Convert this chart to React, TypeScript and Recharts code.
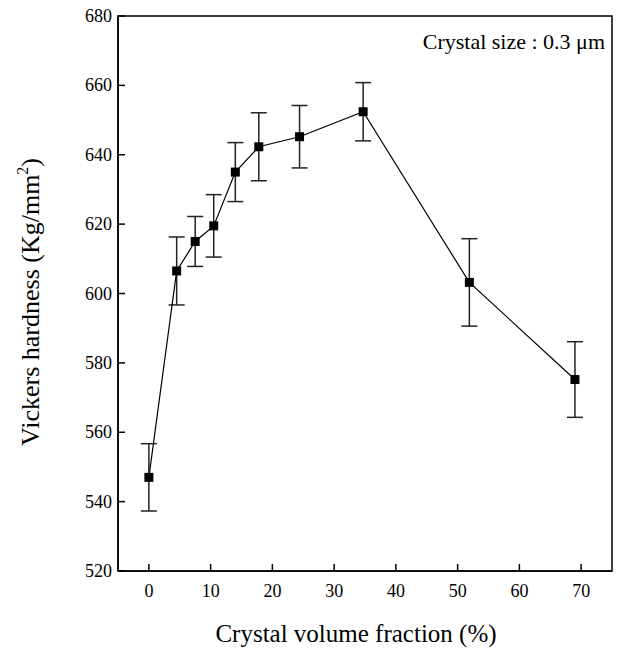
import React from "react";
import {
  LineChart,
  Line,
  XAxis,
  YAxis,
  ErrorBar,
  ReferenceArea,
} from "recharts";

// crystal volume fraction (%)
const fractions = [0, 4.5, 7.5, 10.5, 14, 17.8, 24.4, 34.7, 51.9, 69];
// Vickers hardness (Kg/mm2)
const hardness = [547, 606.5, 615, 619.5, 635, 642.3, 645.2, 652.4, 603.2, 575.2];
const errors = [9.7, 9.8, 7.2, 9, 8.5, 9.8, 9, 8.4, 12.6, 10.9];

const xTicks = [0, 10, 20, 30, 40, 50, 60, 70];
const yTicks = [520, 540, 560, 580, 600, 620, 640, 660, 680];

const data = fractions.map((f, i) => ({
  x: f,
  y: hardness[i],
  err: errors[i],
}));

const FONT = "'Liberation Serif', 'DejaVu Serif', serif";

const XTick = (props: any) => {
  const { x, y, payload } = props;
  return (
    <g>
      <line x1={x} y1={y} x2={x} y2={y - 7} stroke="#000" strokeWidth={1.5} />
      <text x={x} y={y + 26} textAnchor="middle" fontFamily={FONT} fontSize={18} fill="#000">
        {payload.value}
      </text>
    </g>
  );
};

const YTick = (props: any) => {
  const { x, y, payload } = props;
  return (
    <g>
      <line x1={x} y1={y} x2={x + 7} y2={y} stroke="#000" strokeWidth={1.5} />
      <text x={x - 6} y={y + 6} textAnchor="end" fontFamily={FONT} fontSize={18} fill="#000">
        {payload.value}
      </text>
    </g>
  );
};

const SquareDot = (props: any) => {
  const { cx, cy } = props;
  if (cx == null || cy == null) return null;
  return <rect x={cx - 4.5} y={cy - 4.5} width={9} height={9} fill="#000" />;
};

export default function App() {
  return (
    <div style={{ position: "absolute", left: 0, top: 0, background: "#fff" }}>
      <LineChart
        width={622}
        height={655}
        data={data}
        margin={{ top: 16, right: 10, left: 0, bottom: 0 }}
      >
        <XAxis
          dataKey="x"
          type="number"
          domain={[-5, 75]}
          ticks={xTicks}
          height={84}
          tickSize={0}
          tickMargin={0}
          tickLine={false}
          axisLine={{ stroke: "#000", strokeWidth: 1.5 }}
          tick={<XTick />}
          label={() => (
            <text x={356} y={642} textAnchor="middle" fontFamily={FONT} fontSize={25} fill="#000">
              Crystal volume fraction (%)
            </text>
          )}
        />
        <YAxis
          type="number"
          domain={[520, 680]}
          ticks={yTicks}
          width={118}
          tickSize={0}
          tickMargin={0}
          tickLine={false}
          axisLine={{ stroke: "#000", strokeWidth: 1.5 }}
          tick={<YTick />}
          label={() => (
            <text
              x={0}
              y={0}
              transform="translate(39, 302) rotate(-90)"
              textAnchor="middle"
              fontFamily={FONT}
              fontSize={26}
              fill="#000"
            >
              Vickers hardness (Kg/mm
              <tspan dy={-11} fontSize={16}>2</tspan>
              <tspan dy={11}>)</tspan>
            </text>
          )}
        />
        <ReferenceArea
          x1={-5}
          x2={75}
          y1={520}
          y2={680}
          fill="none"
          stroke="#000"
          strokeWidth={1.5}
          label={() => (
            <text x={605} y={49} textAnchor="end" fontFamily={FONT} fontSize={22} fill="#000">
              Crystal size : 0.3 μm
            </text>
          )}
        />
        <Line
          dataKey="y"
          stroke="#000"
          strokeWidth={1.2}
          dot={<SquareDot />}
          activeDot={false}
          isAnimationActive={false}
        >
          <ErrorBar dataKey="err" width={8} stroke="#222" strokeWidth={1.5} direction="y" />
        </Line>
      </LineChart>
    </div>
  );
}
